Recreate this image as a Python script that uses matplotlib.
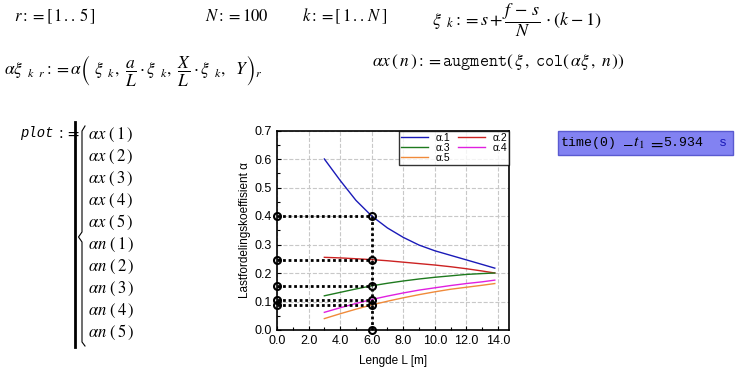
import matplotlib
matplotlib.use("Agg")
import matplotlib.pyplot as plt
from matplotlib.lines import Line2D
from matplotlib.patches import Rectangle

plt.rcParams['mathtext.fontset'] = 'stix'

# Data
L = [3, 4, 5, 6, 7, 8, 9, 10, 11, 12, 13, 13.8]
a1 = [0.600, 0.525, 0.455, 0.400, 0.358, 0.325, 0.298, 0.278, 0.262, 0.246, 0.230, 0.217]
a2 = [0.255, 0.253, 0.250, 0.247, 0.243, 0.238, 0.233, 0.228, 0.222, 0.215, 0.207, 0.200]
a3 = [0.120, 0.132, 0.144, 0.155, 0.164, 0.172, 0.179, 0.185, 0.190, 0.195, 0.198, 0.200]
a4 = [0.062, 0.078, 0.093, 0.107, 0.119, 0.130, 0.140, 0.148, 0.156, 0.163, 0.169, 0.175]
a5 = [0.040, 0.057, 0.073, 0.088, 0.101, 0.113, 0.124, 0.134, 0.143, 0.150, 0.157, 0.163]
series = [a1, a2, a3, a4, a5]
labels = ['α.1', 'α.2', 'α.3', 'α.4', 'α.5']
colors = ['#1a1ab8', '#cc2222', '#1e7a1e', '#e020e0', '#f08a3a']

L_sel = 6.0
alpha_sel = [0.400, 0.247, 0.155, 0.107, 0.088]

x_ticks = [0, 2, 4, 6, 8, 10, 12, 14]
y_ticks = [0.0, 0.1, 0.2, 0.3, 0.4, 0.5, 0.6, 0.7]

W, H = 740, 386
fig = plt.figure(figsize=(W / 100, H / 100), dpi=100)
fig.patch.set_facecolor('white')


def px(x, y):
    return x / W, 1 - y / H


def put(x, y, s, size=11, **kw):
    fx, fy = px(x, y)
    fig.text(fx, fy, s, fontsize=size, va='center', ha='left', **kw)


# worksheet math regions
put(14, 16, r'$r := \left[\,1\,..\,5\,\right]$', size=12)
put(205, 16, r'$N := 100$', size=12)
put(302, 16, r'$k := \left[\,1\,..\,N\,\right]$', size=12)
put(432, 20, r'$\xi_{\ \ k} := s + \dfrac{f\,-\,s}{N}\,\cdot\left(k-1\right)$', size=13)
put(4, 70, r'$\alpha\xi_{\ \ k\ \ r} := \alpha\left(\ \xi_{\ \ k},\ \dfrac{a}{L}\cdot\xi_{\ \ k},\ \dfrac{X}{L}\cdot\xi_{\ \ k},\ \ Y\right)_{r}$', size=12.5)
put(372, 62, r'$\alpha x\,\left(\,n\,\right) := \mathtt{augment}\left(\,\xi\,,\ \mathtt{col}\left(\,\alpha\xi\,,\ n\,\right)\right)$', size=12.5)

put(20, 133, 'plot', size=10, family='Liberation Mono', style='italic')
put(56, 133, r'$:=$', size=12)

# bar and brace
fig.add_artist(Line2D([75 / W, 75 / W], [1 - 122 / H, 1 - 347 / H], color='black', lw=2))
bx = [85, 82, 82, 78.5, 82, 82, 85]
by = [126, 131, 232, 237, 242, 342, 346]
fig.add_artist(Line2D([v / W for v in bx], [1 - v / H for v in by], color='black', lw=0.8))

items = [r'$\alpha x\ \left(\,%d\,\right)$' % i for i in range(1, 6)] + \
        [r'$\alpha n\ \left(\,%d\,\right)$' % i for i in range(1, 6)]
for i, s in enumerate(items):
    put(88, 135 + i * 21.97, s, size=12)

# time box
fx, fy = px(558, 155)
fig.add_artist(Rectangle((fx, fy), 175 / W, 24 / H, transform=fig.transFigure,
                         facecolor='#8282f2', edgecolor='#5a5ad0', lw=1))
put(561, 143, 'time(0)', size=9.5, family='Liberation Mono')
put(622, 143, r'$-$', size=11)
put(633, 143, r'$t_{\,1}$', size=11.5)
put(648, 143, r'$=$', size=13)
put(663, 143, '5.934', size=9.5, family='Liberation Mono')
put(719, 143, 's', size=9.5, family='Liberation Mono', color='#1a1ab8')

# chart
ax = fig.add_axes([277 / W, 1 - 330 / H, 232 / W, 199.5 / H])
lines = []
for s, lab, c in zip(series, labels, colors):
    lines += ax.plot(L, s, color=c, lw=1, label=lab)

for v in alpha_sel:
    ax.plot([0, L_sel], [v, v], color='black', ls=(0, (1, 1)), lw=2)
ax.plot([L_sel, L_sel], [0, max(alpha_sel)], color='black', ls=(0, (1, 1)), lw=2)
mk = dict(marker='o', ls='none', mfc='none', mec='black', ms=5, mew=1.5, clip_on=False)
ax.plot([L_sel] * len(alpha_sel), alpha_sel, **mk)
ax.plot([0] * len(alpha_sel), alpha_sel, **mk)
ax.plot([L_sel], [0], **mk)

ax.set_xlim(0, 14.7)
ax.set_ylim(0, 0.7)
ax.set_xticks(x_ticks)
ax.set_yticks(y_ticks)
ax.set_xticklabels(['%.1f' % v for v in x_ticks])
ax.set_yticklabels(['%.1f' % v for v in y_ticks])
ax.set_xticks([1, 3, 5, 7, 9, 11, 13], minor=True)
ax.set_yticks([0.05, 0.15, 0.25, 0.35, 0.45, 0.55, 0.65], minor=True)
ax.tick_params(which='both', direction='in', labelsize=9, length=3, width=0.8)
ax.tick_params(which='minor', length=2)
for lab in ax.get_xticklabels() + ax.get_yticklabels():
    lab.set_family('Liberation Sans')
ax.grid(True, which='major', color='#c8c8c8', ls='--', lw=0.8)
for sp in ax.spines.values():
    sp.set_linewidth(1.2)
ax.set_xlabel('Lengde L [m]', fontsize=8.5, family='Liberation Sans', labelpad=6)
ax.set_ylabel('Lastfordelingskoeffisient α', fontsize=8.5, family='Liberation Sans', labelpad=3)

# legend filled row by row like the original
order = [0, 2, 4, 1, 3]
leg = ax.legend([lines[i] for i in order], [labels[i] for i in order],
                loc='upper right', ncol=2, frameon=True, fancybox=False,
                borderaxespad=0, handlelength=2.6, columnspacing=0.7, labelspacing=0.0,
                borderpad=0.2, handletextpad=0.7, prop={'family': 'Liberation Sans', 'size': 7.5})
leg.get_frame().set_edgecolor('black')
leg.get_frame().set_linewidth(1)

fig.savefig('out.png', dpi=100)
